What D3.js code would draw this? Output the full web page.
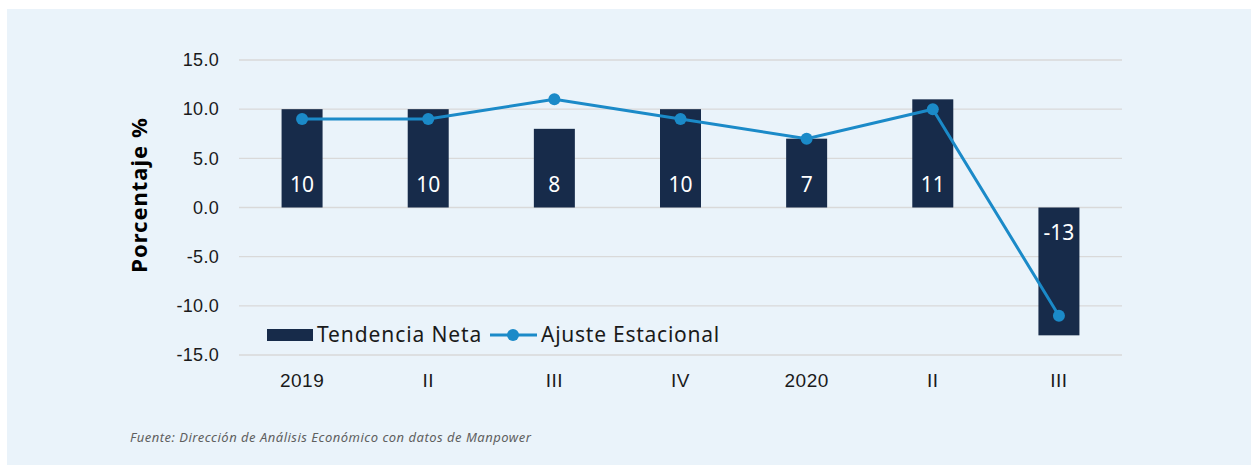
<!DOCTYPE html>
<html>
<head>
<meta charset="utf-8">
<script src="https://cdn.jsdelivr.net/npm/d3@7"></script>
<style>
  body { margin: 0; background: #fff; }
  svg { display: block; font-family: "Noto Sans", sans-serif; }
</style>
</head>
<body>
<div id="chart"></div>
<script>
const categories = ["2019", "II", "III", "IV", "2020", "II ", "III "];
const tendenciaNeta = [10, 10, 8, 10, 7, 11, -13];
const ajusteEstacional = [9, 9, 11, 9, 7, 10, -11];
const yTicks = [15, 10, 5, 0, -5, -10, -15];

const width = 1251, height = 465;
const margin = {top: 60, right: 129, bottom: 110, left: 239};
const innerWidth = width - margin.left - margin.right;
const innerHeight = height - margin.top - margin.bottom;

const svg = d3.select("#chart")
    .append("svg")
    .attr("width", width)
    .attr("height", height);

// panel background
svg.append("rect")
    .attr("x", 7).attr("y", 9)
    .attr("width", width - 7).attr("height", height - 9)
    .attr("fill", "#EAF3FA");

const g = svg.append("g")
    .attr("transform", `translate(${margin.left},${margin.top})`);

const x = d3.scaleBand()
    .domain(categories)
    .range([0, innerWidth])
    .paddingInner(0.675)
    .paddingOuter(0.3375);

const y = d3.scaleLinear()
    .domain([-15, 15])
    .range([innerHeight, 0]);

// hyphen instead of unicode minus, like the original
const fmt = d => d3.format(".1f")(d).replace("\u2212", "-");

// gridlines
g.append("g")
    .selectAll("line")
    .data(yTicks)
    .join("line")
    .attr("x1", 0)
    .attr("x2", innerWidth)
    .attr("y1", d => y(d))
    .attr("y2", d => y(d))
    .attr("stroke", "#D9D9D9")
    .attr("stroke-width", 1.3);

// y axis
const yAxis = g.append("g")
    .call(d3.axisLeft(y).tickValues(yTicks).tickFormat(fmt).tickSize(0).tickPadding(20));
yAxis.select(".domain").remove();
yAxis.selectAll("text")
    .style("font-size", "18px")
    .style("letter-spacing", "0.3px")
    .attr("fill", "#1a1a1a");

// x axis
const xAxis = g.append("g")
    .attr("transform", `translate(0,${innerHeight})`)
    .call(d3.axisBottom(x).tickSize(0).tickPadding(19));
xAxis.select(".domain").remove();
xAxis.selectAll("text")
    .style("font-size", "19px")
    .style("letter-spacing", "0.5px")
    .attr("fill", "#1a1a1a");

// bars
const data = categories.map((c, i) => ({cat: c, bar: tendenciaNeta[i], line: ajusteEstacional[i]}));

g.selectAll(".bar")
    .data(data)
    .join("rect")
    .attr("class", "bar")
    .attr("x", d => x(d.cat))
    .attr("width", x.bandwidth())
    .attr("y", d => y(Math.max(0, d.bar)))
    .attr("height", d => Math.abs(y(d.bar) - y(0)))
    .attr("fill", "#172B4A");

// bar labels
g.selectAll(".bar-label")
    .data(data)
    .join("text")
    .attr("class", "bar-label")
    .attr("x", d => x(d.cat) + x.bandwidth() / 2)
    .attr("y", d => d.bar >= 0 ? y(0) - 23 : y(0) + 25)
    .attr("dy", "0.35em")
    .attr("text-anchor", "middle")
    .attr("fill", "#fff")
    .style("font-size", "21px")
    .text(d => d.bar);

// line
const line = d3.line()
    .x(d => x(d.cat) + x.bandwidth() / 2)
    .y(d => y(d.line));

g.append("path")
    .datum(data)
    .attr("d", line)
    .attr("fill", "none")
    .attr("stroke", "#1B8AC8")
    .attr("stroke-width", 3);

g.selectAll(".dot")
    .data(data)
    .join("circle")
    .attr("class", "dot")
    .attr("cx", d => x(d.cat) + x.bandwidth() / 2)
    .attr("cy", d => y(d.line))
    .attr("r", 6)
    .attr("fill", "#1B8AC8");

// legend
const legend = svg.append("g").attr("transform", "translate(267,335)");
legend.append("rect")
    .attr("x", 0).attr("y", -6)
    .attr("width", 46).attr("height", 12)
    .attr("fill", "#172B4A");
legend.append("text")
    .attr("x", 50).attr("y", 0).attr("dy", "0.35em")
    .style("font-size", "21px")
    .style("letter-spacing", "0.9px")
    .attr("fill", "#1a1a1a")
    .text("Tendencia Neta");
legend.append("line")
    .attr("x1", 223).attr("x2", 270)
    .attr("y1", 0).attr("y2", 0)
    .attr("stroke", "#1B8AC8").attr("stroke-width", 3);
legend.append("circle")
    .attr("cx", 246).attr("cy", 0).attr("r", 6)
    .attr("fill", "#1B8AC8");
legend.append("text")
    .attr("x", 274).attr("y", 0).attr("dy", "0.35em")
    .style("font-size", "21px")
    .style("letter-spacing", "0.75px")
    .attr("fill", "#1a1a1a")
    .text("Ajuste Estacional");

// y axis title
svg.append("text")
    .attr("transform", "translate(139,195) rotate(-90)")
    .attr("text-anchor", "middle")
    .attr("dy", "0.35em")
    .style("font-size", "22px")
    .style("font-weight", "bold")
    .style("letter-spacing", "1px")
    .attr("fill", "#000")
    .text("Porcentaje %");

// source
svg.append("text")
    .attr("x", 130).attr("y", 442)
    .style("font-size", "13px")
    .style("font-style", "italic")
    .style("letter-spacing", "0.5px")
    .attr("fill", "#5f5f5f")
    .text("Fuente: Dirección de Análisis Económico con datos de Manpower");
</script>
</body>
</html>
